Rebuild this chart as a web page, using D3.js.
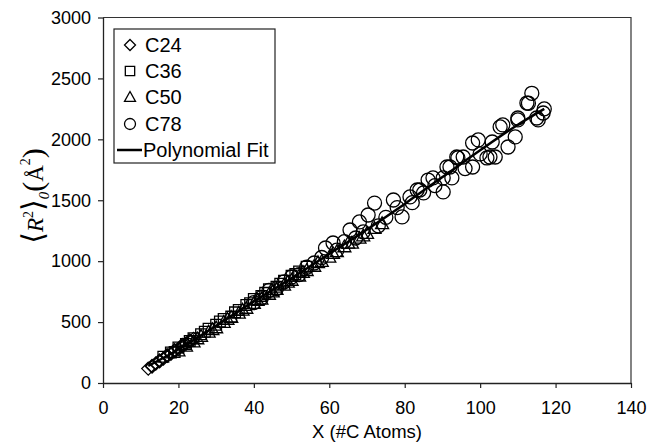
<!DOCTYPE html>
<html>
<head>
<meta charset="utf-8">
<script src="https://cdn.jsdelivr.net/npm/d3@7"></script>
<style>
  body { margin: 0; background: #fff; }
  svg { display: block; font-family: Arial, "Liberation Sans", sans-serif; }
</style>
</head>
<body>
<div id="chart"></div>
<script>
// dữ liệu
const c24X = [12, 13, 14, 15, 16, 17, 18, 19, 20, 21, 22, 23, 24, 13, 15, 17, 19, 21, 23];
const c24Y = [118, 135, 160, 178, 200, 222, 240, 262, 280, 300, 322, 340, 362, 140, 185, 228, 270, 312, 350];

const c36X = [16, 18, 20, 22, 24, 26, 28, 30, 32, 34, 36, 38, 40, 42, 44, 46, 48, 50, 52, 54, 19, 23, 27, 31, 35, 39, 43, 47, 51];
const c36Y = [215, 250, 292, 320, 368, 400, 445, 478, 525, 545, 600, 640, 690, 715, 770, 790, 840, 880, 915, 955, 255, 345, 420, 505, 580, 655, 740, 815, 895];

const c50X = [20, 22, 24, 26, 28, 30, 32, 34, 36, 38, 40, 42, 44, 46, 48, 50, 52, 54, 56, 58, 60, 62, 64, 66, 68, 70, 72, 74, 25, 29, 33, 37, 41, 45, 49, 53, 57, 61, 65, 69];
const c50Y = [265, 305, 340, 385, 420, 455, 500, 540, 575, 615, 655, 690, 730, 770, 805, 845, 880, 925, 960, 1000, 1035, 1080, 1120, 1150, 1190, 1230, 1270, 1310, 365, 440, 525, 600, 680, 750, 830, 910, 990, 1065, 1150, 1210];

const c78X = [40, 42, 44, 46, 48, 50, 52, 54, 56, 58, 59, 61, 62, 64, 65.5, 67, 68, 69, 70.3, 72, 73, 75, 77, 78, 79.3, 81.4, 82, 83.3, 84, 85, 86.2, 87.5, 88, 90.2, 90.2, 91.2, 92, 92.5, 93.8, 94.1, 95.5, 96, 98, 98, 99.5, 100, 101.8, 102.6, 103.2, 104, 105.3, 106, 107.4, 109.3, 110, 110, 112.4, 112.8, 113.7, 115, 115.4, 116.7, 117];
const c78Y = [660, 700, 760, 775, 830, 870, 890, 950, 985, 1030, 1108, 1149, 1090, 1160, 1256, 1190, 1322, 1240, 1379, 1477, 1290, 1360, 1502, 1440, 1363, 1527, 1480, 1584, 1584, 1560, 1666, 1683, 1620, 1683, 1568, 1773, 1773, 1683, 1855, 1847, 1855, 1760, 1773, 1970, 1995, 1880, 1847, 1855, 1978, 1855, 2102, 2118, 1937, 2020, 2159, 2175, 2298, 2296, 2378, 2175, 2159, 2216, 2250];

const fitX = [12, 20, 30, 40, 50, 60, 70, 80, 90, 100, 110, 117];
const fitY = [140, 275, 470, 670, 860, 1060, 1260, 1470, 1690, 1910, 2120, 2250];

const xTicks = [0, 20, 40, 60, 80, 100, 120, 140];
const yTicks = [0, 500, 1000, 1500, 2000, 2500, 3000];

const seriesNames = ["C24", "C36", "C50", "C78"];
const seriesShapes = ["diamond", "square", "triangle", "circle"];

const W = 649, H = 443;
const margin = { top: 17.5, right: 18, bottom: 60, left: 103 };

const svg = d3.select("#chart").append("svg")
    .attr("width", W)
    .attr("height", H);

const x = d3.scaleLinear().domain([0, 140]).range([margin.left, W - margin.right]);
const y = d3.scaleLinear().domain([0, 3000]).range([H - margin.bottom, margin.top]);

// Hình dạng marker
function shapePath(shape, r) {
    const p = d3.path();
    if (shape === "diamond") {
        p.moveTo(0, -r); p.lineTo(r, 0); p.lineTo(0, r); p.lineTo(-r, 0); p.closePath();
    } else if (shape === "square") {
        const h = r * 0.85;
        p.rect(-h, -h, 2 * h, 2 * h);
    } else if (shape === "triangle") {
        p.moveTo(0, -r); p.lineTo(r, r * 0.8); p.lineTo(-r, r * 0.8); p.closePath();
    } else {
        p.arc(0, 0, r, 0, 2 * Math.PI);
    }
    return p.toString();
}

// khung vẽ (trên + phải)
svg.append("path")
    .attr("d", `M${x(0)},${y(3000)}H${x(140)}V${y(0)}`)
    .attr("fill", "none")
    .attr("stroke", "#333")
    .attr("stroke-width", 1.2);

// Trục
const xAxis = svg.append("g")
    .attr("transform", `translate(0,${y(0)})`)
    .call(d3.axisBottom(x).tickValues(xTicks).tickSize(5).tickSizeOuter(0));
const yAxis = svg.append("g")
    .attr("transform", `translate(${x(0)},0)`)
    .call(d3.axisLeft(y).tickValues(yTicks).tickFormat(d3.format("d")).tickSize(5).tickSizeOuter(0));

[xAxis, yAxis].forEach(g => {
    g.select(".domain").attr("stroke", "#222").attr("stroke-width", 1.3);
    g.selectAll(".tick line").attr("stroke", "#222").attr("stroke-width", 1.2);
    g.selectAll(".tick text")
        .attr("fill", "#000")
        .style("font-size", "18px")
        .style("font-family", "Arial, 'Liberation Sans', sans-serif");
});
xAxis.selectAll(".tick text").attr("y", 18);
yAxis.selectAll(".tick text").attr("x", -12);

// Tên trục X
svg.append("text")
    .attr("x", x(70))
    .attr("y", 438)
    .attr("text-anchor", "middle")
    .style("font-size", "18.5px")
    .text("X (#C Atoms)");

// Tên trục Y: ⟨R²⟩₀(Å²)
const yl = svg.append("text")
    .attr("transform", `translate(43,196) rotate(-90)`)
    .attr("text-anchor", "middle")
    .style("font-family", "'Liberation Serif', 'DejaVu Serif', serif");
yl.append("tspan").style("font-size", "30px").style("font-family", "'DejaVu Sans'").text("⟨");
yl.append("tspan").style("font-size", "23px").style("font-style", "italic").text("R");
yl.append("tspan").style("font-size", "14px").attr("dy", -10).text("2");
yl.append("tspan").style("font-size", "30px").style("font-family", "'DejaVu Sans'").attr("dy", 10).text("⟩");
yl.append("tspan").style("font-size", "15px").style("font-style", "italic").attr("dy", 6).text("0");
yl.append("tspan").style("font-size", "30px").attr("dy", -6).text("(");
yl.append("tspan").style("font-size", "23px").text("Å");
yl.append("tspan").style("font-size", "14px").attr("dy", -13).text("2");
yl.append("tspan").style("font-size", "30px").attr("dy", 13).text(")");

// Điểm dữ liệu
const allX = [c24X, c36X, c50X, c78X];
const allY = [c24Y, c36Y, c50Y, c78Y];
const sizes = [6.5, 6.3, 6.5, 7];

seriesNames.forEach((name, i) => {
    const pts = allX[i].map((v, j) => ({ x: v, y: allY[i][j] }));
    svg.append("g")
        .attr("class", "series-" + name)
        .selectAll("path")
        .data(pts)
        .join("path")
        .attr("transform", d => `translate(${x(d.x)},${y(d.y)})`)
        .attr("d", shapePath(seriesShapes[i], sizes[i]))
        .attr("fill", "none")
        .attr("stroke", "#000")
        .attr("stroke-width", 1.3);
});

// Đường khớp đa thức
const fitData = fitX.map((v, j) => ({ x: v, y: fitY[j] }));
svg.append("path")
    .datum(fitData)
    .attr("d", d3.line().x(d => x(d.x)).y(d => y(d.y)).curve(d3.curveMonotoneX))
    .attr("fill", "none")
    .attr("stroke", "#000")
    .attr("stroke-width", 2.5);

// Chú thích
const legend = svg.append("g").attr("transform", "translate(114,29)");
legend.append("rect")
    .attr("width", 161)
    .attr("height", 134)
    .attr("fill", "#fff")
    .attr("stroke", "#222")
    .attr("stroke-width", 1.2);

const rowY = [16, 42, 68, 95, 121];
seriesNames.forEach((name, i) => {
    legend.append("path")
        .attr("transform", `translate(16,${rowY[i]})`)
        .attr("d", shapePath(seriesShapes[i], 5.5))
        .attr("fill", "none")
        .attr("stroke", "#000")
        .attr("stroke-width", 1.3);
    legend.append("text")
        .attr("x", 31)
        .attr("y", rowY[i])
        .attr("dy", "0.36em")
        .style("font-size", "20px")
        .text(name);
});
legend.append("line")
    .attr("x1", 3).attr("x2", 28)
    .attr("y1", rowY[4]).attr("y2", rowY[4])
    .attr("stroke", "#000")
    .attr("stroke-width", 2.5);
legend.append("text")
    .attr("x", 29)
    .attr("y", rowY[4])
    .attr("dy", "0.36em")
    .style("font-size", "20px")
    .text("Polynomial Fit");
</script>
</body>
</html>
